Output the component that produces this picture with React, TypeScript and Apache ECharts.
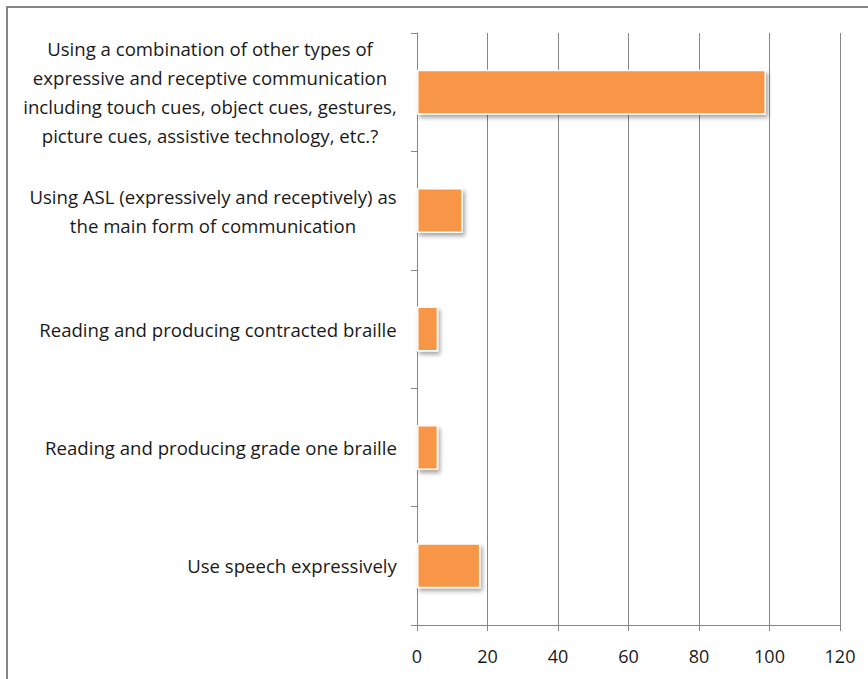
import React, { useEffect, useRef } from "react";
import * as echarts from "echarts";

// Categories listed bottom-to-top, as the category axis draws them
const categories: string[] = [
  "Use speech expressively",
  "Reading and producing grade one braille",
  "Reading and producing contracted braille",
  "Using ASL (expressively and receptively) as\nthe main form of communication",
  "Using a combination of other types of\nexpressive and receptive communication\nincluding touch cues, object cues, gestures,\npicture cues, assistive technology, etc.?",
];
const counts: number[] = [18, 6, 6, 13, 99];
const axisMin = 0;
const axisMax = 120;
const axisStep = 20;

const FONT = "'Open Sans', Lato, sans-serif";
const LABEL_SIZE = 18.6;
const TICK_SIZE = 18;

// Width of the widest line of each label, so its lines can be centred within its own block
function measureLines(texts: string[]): number[] {
  const canvas = document.createElement("canvas");
  const ctx = canvas.getContext("2d");
  if (!ctx) return texts.map(() => 300);
  ctx.font = `${LABEL_SIZE}px ${FONT}`;
  return texts.map((t) =>
    Math.ceil(Math.max(...t.split("\n").map((l) => ctx.measureText(l).width)))
  );
}

export default function App() {
  const ref = useRef<HTMLDivElement>(null);

  useEffect(() => {
    if (!ref.current) return;
    const chart = echarts.init(ref.current, undefined, { renderer: "svg" });
    const widths = measureLines(categories);
    const rich: Record<string, any> = {};
    widths.forEach((w, i) => {
      rich["w" + i] = {
        width: w,
        align: "center",
        fontFamily: FONT,
        fontSize: LABEL_SIZE,
        color: "#1a1a1a",
        lineHeight: 29,
      };
    });

    chart.setOption({
      animation: false,
      backgroundColor: "#ffffff",
      textStyle: { fontFamily: FONT },
      graphic: [
        {
          type: "rect",
          shape: { x: 7, y: 7, width: 900, height: 700 },
          style: { fill: "none", stroke: "#868686", lineWidth: 2 },
          silent: true,
        },
      ],
      grid: { left: 417, right: 28, top: 33, bottom: 54, containLabel: false },
      xAxis: {
        type: "value",
        min: axisMin,
        max: axisMax,
        interval: axisStep,
        axisLine: { show: true, lineStyle: { color: "#868686", width: 1 } },
        axisTick: { show: true, length: 6, lineStyle: { color: "#868686" } },
        splitLine: { show: true, lineStyle: { color: "#868686", width: 1 } },
        axisLabel: {
          margin: 22,
          fontFamily: FONT,
          fontSize: TICK_SIZE,
          color: "#1a1a1a",
        },
      },
      yAxis: {
        type: "category",
        data: categories,
        axisLine: { show: true, lineStyle: { color: "#868686", width: 1 } },
        axisTick: { show: true, length: 6, lineStyle: { color: "#868686" } },
        splitLine: { show: false },
        axisLabel: {
          margin: 20,
          align: "right",
          interval: 0,
          formatter: (value: string, index: number) =>
            value
              .split("\n")
              .map((line) => `{w${index}|${line}}`)
              .join("\n"),
          rich,
        },
      },
      series: [
        {
          type: "bar",
          data: counts,
          barWidth: 45,
          itemStyle: {
            color: "#F79646",
            borderColor: "#ffffff",
            borderWidth: 1.5,
            shadowColor: "rgba(0,0,0,0.35)",
            shadowBlur: 4,
            shadowOffsetX: 2,
            shadowOffsetY: 3,
          },
        },
      ],
    });
    return () => chart.dispose();
  }, []);

  return (
    <div
      ref={ref}
      style={{ position: "fixed", left: 0, top: 0, width: 868, height: 679 }}
    />
  );
}
